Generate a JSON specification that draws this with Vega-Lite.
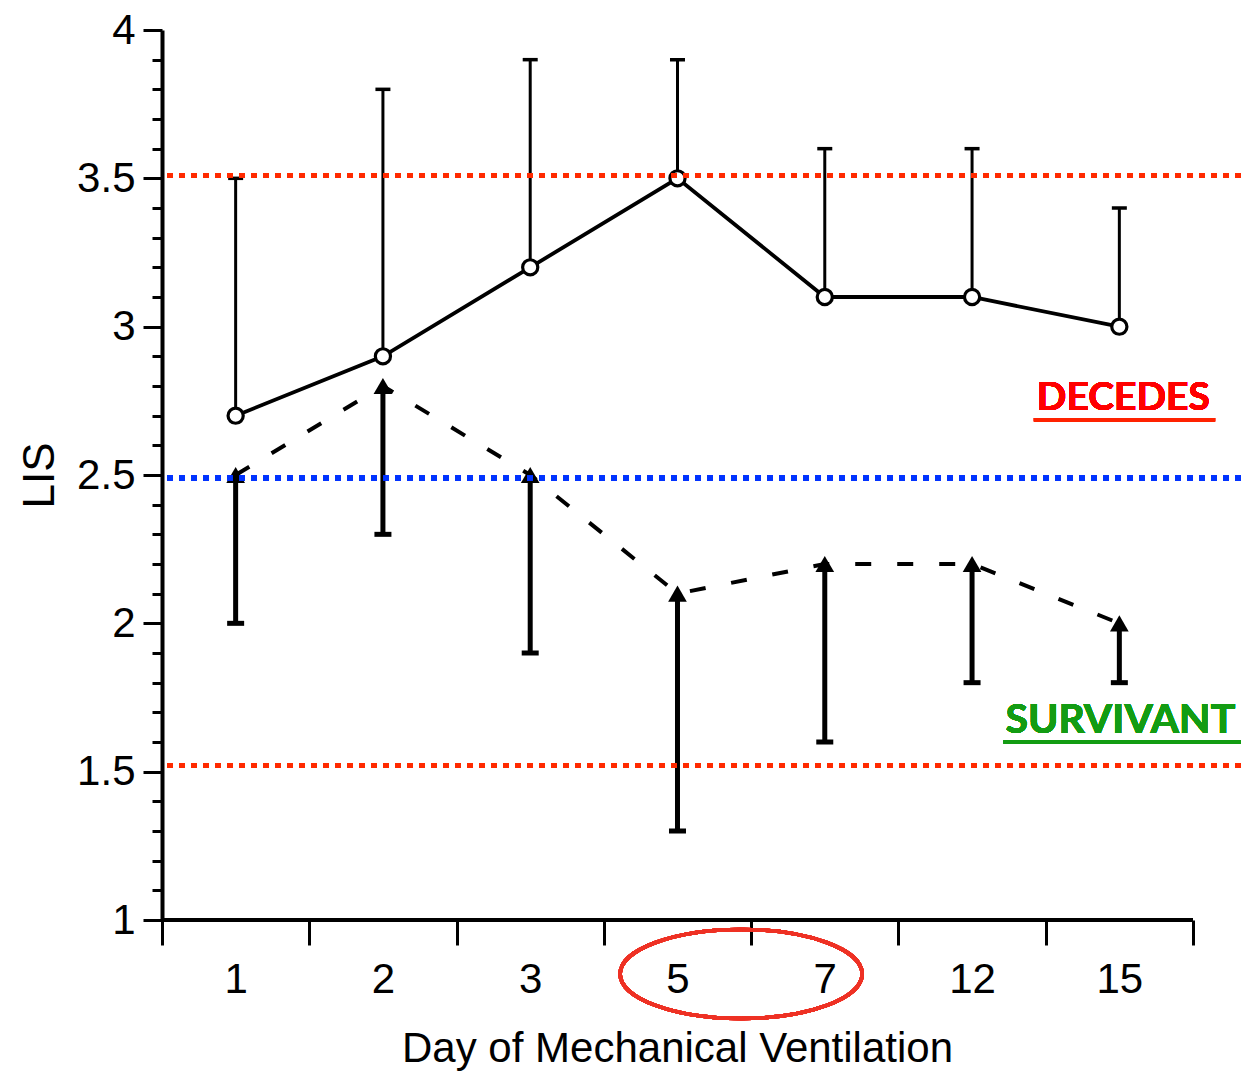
{
  "$schema": "https://vega.github.io/schema/vega-lite/v6.json",
  "autosize": {"type": "none"},
  "padding": {"left": 162, "top": 30, "right": 0, "bottom": 152},
  "width": 1079,
  "height": 890,
  "background": "white",
  "config": {"view": {"stroke": null}, "font": "Liberation Sans"},
  "datasets": {
    "lis": [
      {"day": 1, "group": "Decedes", "mean": 2.7, "end": 3.5},
      {"day": 2, "group": "Decedes", "mean": 2.9, "end": 3.8},
      {"day": 3, "group": "Decedes", "mean": 3.2, "end": 3.9},
      {"day": 5, "group": "Decedes", "mean": 3.5, "end": 3.9},
      {"day": 7, "group": "Decedes", "mean": 3.1, "end": 3.6},
      {"day": 12, "group": "Decedes", "mean": 3.1, "end": 3.6},
      {"day": 15, "group": "Decedes", "mean": 3.0, "end": 3.4},
      {"day": 1, "group": "Survivant", "mean": 2.5, "end": 2.0},
      {"day": 2, "group": "Survivant", "mean": 2.8, "end": 2.3},
      {"day": 3, "group": "Survivant", "mean": 2.5, "end": 1.9},
      {"day": 5, "group": "Survivant", "mean": 2.1, "end": 1.3},
      {"day": 7, "group": "Survivant", "mean": 2.2, "end": 1.6},
      {"day": 12, "group": "Survivant", "mean": 2.2, "end": 1.8},
      {"day": 15, "group": "Survivant", "mean": 2.0, "end": 1.8}
    ]
  },
  "data": {"name": "lis"},
  "layer": [
    {
      "transform": [{"filter": "datum.group === 'Decedes'"}],
      "mark": {"type": "line", "color": "black", "strokeWidth": 3.8},
      "encoding": {
        "x": {
          "field": "day", "type": "ordinal",
          "scale": {"type": "band", "domain": [1, 2, 3, 5, 7, 12, 15], "paddingInner": 0, "paddingOuter": 0.163, "align": 0},
          "axis": {
            "title": "Day of Mechanical Ventilation",
            "titleX": 515,
            "titleFontSize": 42, "titleFontWeight": "normal", "titleColor": "black", "titlePadding": 28,
            "labelAngle": 0, "labelFontSize": 42, "labelColor": "black", "labelPadding": 14,
            "domain": false, "grid": false,
            "tickBand": "extent", "tickSize": 25, "tickWidth": 3, "tickColor": "black"
          }
        },
        "y": {
          "field": "mean", "type": "quantitative",
          "scale": {"domain": [1, 4], "nice": false, "zero": false},
          "axis": {
            "title": "LIS",
            "titleFontSize": 44, "titleFontWeight": "normal", "titleColor": "black", "titlePadding": 14,
            "values": [1,1.1,1.2,1.3,1.4,1.5,1.6,1.7,1.8,1.9,2,2.1,2.2,2.3,2.4,2.5,2.6,2.7,2.8,2.9,3,3.1,3.2,3.3,3.4,3.5,3.6,3.7,3.8,3.9,4],
            "tickCount": 40,
            "labelExpr": "abs(datum.value*2 - round(datum.value*2)) < 0.001 ? format(datum.value, '~g') : ''",
            "labelOverlap": false, "labelFlush": false,
            "labelFontSize": 42, "labelColor": "black", "labelPadding": 8,
            "tickSize": {"condition": {"test": "abs(datum.value*2 - round(datum.value*2)) < 0.001", "value": 19}, "value": 10},
            "tickWidth": 3, "tickColor": "black",
            "domainWidth": 4, "domainColor": "black", "grid": false
          }
        }
      }
    },
    {
      "transform": [{"filter": "datum.group === 'Survivant'"}],
      "mark": {"type": "line", "color": "black", "strokeWidth": 4, "strokeDash": [16, 26]},
      "encoding": {
        "x": {"field": "day", "type": "ordinal"},
        "y": {"field": "mean", "type": "quantitative"}
      }
    },
    {
      "transform": [{"filter": "datum.group === 'Decedes'"}],
      "mark": {"type": "rule", "color": "black", "strokeWidth": 3},
      "encoding": {
        "x": {"field": "day", "type": "ordinal"},
        "y": {"field": "mean", "type": "quantitative"},
        "y2": {"field": "end"}
      }
    },
    {
      "transform": [{"filter": "datum.group === 'Survivant'"}],
      "mark": {"type": "rule", "color": "black", "strokeWidth": 5},
      "encoding": {
        "x": {"field": "day", "type": "ordinal"},
        "y": {"field": "mean", "type": "quantitative"},
        "y2": {"field": "end"}
      }
    },
    {
      "transform": [{"filter": "datum.group === 'Decedes'"}],
      "mark": {"type": "tick", "orient": "horizontal", "color": "black", "opacity": 1, "size": 15, "thickness": 3.5},
      "encoding": {
        "x": {"field": "day", "type": "ordinal"},
        "y": {"field": "end", "type": "quantitative"}
      }
    },
    {
      "transform": [{"filter": "datum.group === 'Survivant'"}],
      "mark": {"type": "tick", "orient": "horizontal", "color": "black", "opacity": 1, "size": 17, "thickness": 5},
      "encoding": {
        "x": {"field": "day", "type": "ordinal"},
        "y": {"field": "end", "type": "quantitative"}
      }
    },
    {
      "transform": [{"filter": "datum.group === 'Decedes'"}],
      "mark": {"type": "point", "shape": "circle", "filled": true, "fill": "white", "stroke": "black", "strokeWidth": 3.2, "size": 230, "opacity": 1},
      "encoding": {
        "x": {"field": "day", "type": "ordinal"},
        "y": {"field": "mean", "type": "quantitative"}
      }
    },
    {
      "transform": [{"filter": "datum.group === 'Survivant'"}],
      "mark": {"type": "point", "shape": "triangle-up", "filled": true, "color": "black", "size": 350, "opacity": 1},
      "encoding": {
        "x": {"field": "day", "type": "ordinal"},
        "y": {"field": "mean", "type": "quantitative"}
      }
    },
    {
      "mark": {"type": "rule", "color": "black", "strokeWidth": 4},
      "encoding": {
        "x": {"datum": 1, "type": "ordinal", "bandPosition": 0},
        "x2": {"datum": 15, "bandPosition": 1},
        "y": {"datum": 1, "type": "quantitative"}
      }
    },
    {
      "mark": {"type": "rule", "color": "#ff2a00", "strokeWidth": 4.5, "strokeDash": [6, 6]},
      "encoding": {"y": {"datum": 3.51, "type": "quantitative"}}
    },
    {
      "mark": {"type": "rule", "color": "#0033ff", "strokeWidth": 4.5, "strokeDash": [6, 6]},
      "encoding": {"y": {"datum": 2.49, "type": "quantitative"}}
    },
    {
      "mark": {"type": "rule", "color": "#ff2a00", "strokeWidth": 4.5, "strokeDash": [6, 6]},
      "encoding": {"y": {"datum": 1.52, "type": "quantitative"}}
    },
    {
      "mark": {"type": "text", "text": "DECEDES", "font": "Lato", "fontWeight": "bold", "fontSize": 39, "color": "#ff0000", "align": "center", "baseline": "middle", "dx": 4},
      "encoding": {
        "x": {"datum": 15, "type": "ordinal"},
        "y": {"datum": 2.76, "type": "quantitative"}
      }
    },
    {
      "mark": {"type": "text", "text": "SURVIVANT", "font": "Lato", "fontWeight": "bold", "fontSize": 41, "color": "#139c13", "align": "center", "baseline": "middle", "dx": 1},
      "encoding": {
        "x": {"datum": 15, "type": "ordinal"},
        "y": {"datum": 1.67, "type": "quantitative"}
      }
    },
    {
      "mark": {"type": "rule", "color": "#ff2200", "strokeWidth": 3.5},
      "encoding": {
        "x": {"datum": 15, "type": "ordinal", "bandPosition": -0.08},
        "x2": {"datum": 15, "bandPosition": 1.15},
        "y": {"datum": 2.686, "type": "quantitative"}
      }
    },
    {
      "mark": {"type": "rule", "color": "#139c13", "strokeWidth": 3.5},
      "encoding": {
        "x": {"datum": 15, "type": "ordinal", "bandPosition": -0.285},
        "x2": {"datum": 15, "bandPosition": 1.33},
        "y": {"datum": 1.6, "type": "quantitative"}
      }
    },
    {
      "mark": {"type": "point", "shape": "M-1,0A1,0.368,0,1,0,1,0A1,0.368,0,1,0,-1,0Z", "filled": false, "stroke": "#ee3124", "strokeWidth": 3.5, "size": 58564, "opacity": 1, "xOffset": -10},
      "encoding": {
        "x": {"datum": 5, "type": "ordinal", "bandPosition": 1},
        "y": {"datum": 0.818, "type": "quantitative"}
      }
    }
  ]
}
